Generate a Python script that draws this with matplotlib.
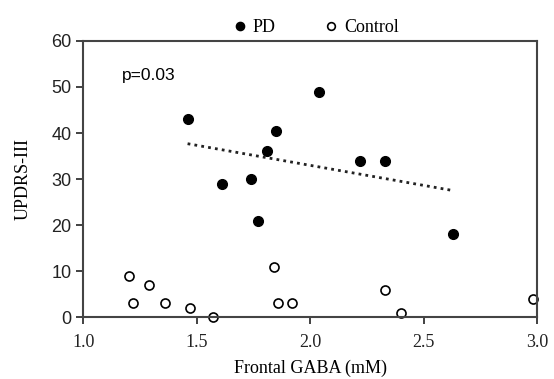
import numpy as np
import matplotlib
matplotlib.use("Agg")
import matplotlib.pyplot as plt

plt.rcParams['font.family'] = ['Liberation Serif', 'DejaVu Serif']

# PD patients
pd_gaba = [1.46, 1.61, 1.74, 1.77, 1.81, 1.85, 2.04, 2.22, 2.33, 2.63]
pd_updrs = [43, 29, 30, 21, 36, 40.5, 49, 34, 34, 18]

# Controls
ctl_gaba = [1.20, 1.22, 1.29, 1.36, 1.47, 1.57, 1.84, 1.86, 1.92, 2.33, 2.40, 2.98]
ctl_updrs = [9, 3, 7, 3, 2, 0, 11, 3, 3, 6, 1, 4]

fig = plt.figure(figsize=(5.54, 3.79), dpi=100)
ax = fig.add_axes([0.150, 0.163, 0.820, 0.729])

ax.plot(pd_gaba, pd_updrs, 'o', color='black', markersize=7, label='PD')
ax.plot(ctl_gaba, ctl_updrs, 'o', markerfacecolor='white', markeredgecolor='black',
        markeredgewidth=1.2, markersize=6.5, label='Control', clip_on=False)

# linear trend for PD
k, b = np.polyfit(pd_gaba, pd_updrs, 1)
xs = np.array([min(pd_gaba), max(pd_gaba)])
ax.plot(xs, k * xs + b, linestyle=(0, (1, 1.5)), color='#222222', linewidth=2)

ax.text(1.17, 52.5, 'p=0.03', fontsize=12.5, family=['Liberation Sans'], va='center')

ax.set_xlim(1.0, 3.0)
ax.set_ylim(0, 60)
ax.set_xticks([1.0, 1.5, 2.0, 2.5, 3.0])
ax.set_xticklabels(['1.0', '1.5', '2.0', '2.5', '3.0'])
ax.set_yticks(range(0, 61, 10))
ax.tick_params(direction='out', length=5, width=1.3, colors='#333333',
               labelsize=13, labelcolor='#222222')
ax.tick_params(axis='x', pad=7)
for lab in ax.get_yticklabels():
    lab.set_family(['Liberation Sans'])
for s in ax.spines.values():
    s.set_linewidth(1.5)
    s.set_color('#444444')

ax.set_xlabel('Frontal GABA (mM)', fontsize=13, labelpad=6)
ax.set_ylabel('UPDRS-III', fontsize=13, labelpad=14)

ax.legend(loc='lower center', bbox_to_anchor=(0.512, 0.99), ncol=2, frameon=False,
          fontsize=13, handlelength=0.8, handletextpad=0.3, columnspacing=2.7,
          borderaxespad=0, markerscale=0.85)

fig.savefig('out.png', dpi=100)
